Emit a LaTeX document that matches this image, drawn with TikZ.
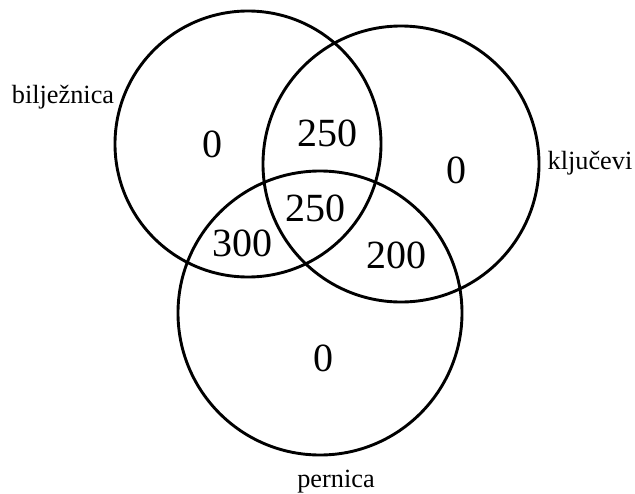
\documentclass[tikz,border=0pt]{standalone}
\usepackage{fontspec}
\setmainfont{Liberation Serif}
\tikzset{epais/.style={line width=2.9pt}}
\newcommand{\ens}[3]{\draw[epais] (#1,#2) circle (#3)}
\newcommand{\nombre}[4]{\node[num] (#1) at (#2,#3) {#4}}
\newcommand{\nom}[4]{\node[lab] (#1) at (#2,#3) {#4}}

\begin{document}
\begin{tikzpicture}[x=1pt,y=-1pt,
	num/.style={font=\fontsize{40}{44}\selectfont, inner sep=0pt},
	lab/.style={font=\fontsize{26.3}{30}\selectfont, inner sep=0pt}]
	\useasboundingbox (0,0) rectangle (635,493);
	\ens{248}{144}{133};
	\ens{401}{164}{138};
	\ens{320}{313}{142};
	\nombre{a}{212}{144}{0};
	\nombre{ab}{327}{133}{250};
	\nombre{b}{456}{170}{0};
	\nombre{abc}{315}{208}{250};
	\nombre{ac}{242}{243}{300};
	\nombre{bc}{396}{255}{200};
	\nombre{c}{323}{358}{0};
	\nom{la}{63}{97}{bilježnica};
	\nom{lb}{590}{163}{ključevi};
	\nom{lc}{336}{482}{pernica};
\end{tikzpicture}
\end{document}
